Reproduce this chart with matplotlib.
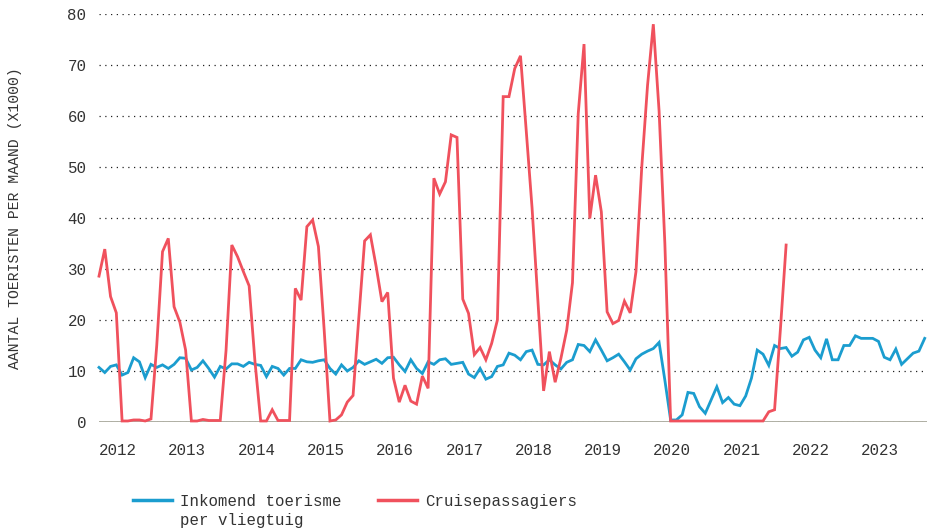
import matplotlib
matplotlib.use("Agg")
import matplotlib.pyplot as plt
from matplotlib.lines import Line2D

plt.rcParams['font.family'] = ['Liberation Mono', 'DejaVu Sans Mono']

# Monthly data, January 2012 onwards (x1000 tourists)
years = [2012, 2013, 2014, 2015, 2016, 2017, 2018, 2019, 2020, 2021, 2022, 2023]

air_tourism = [
    10.7, 9.7, 10.9, 11.2, 9.2, 9.7, 12.6, 11.8, 8.7, 11.3, 10.7, 11.2,   # 2012
    10.5, 11.3, 12.6, 12.5, 10.2, 10.7, 12.0, 10.5, 8.8, 10.9, 10.4, 11.4,  # 2013
    11.4, 10.9, 11.7, 11.3, 11.1, 8.9, 10.9, 10.5, 9.2, 10.5, 10.5, 12.2,   # 2014
    11.8, 11.7, 12.0, 12.2, 10.5, 9.4, 11.2, 10.0, 10.7, 12.0, 11.3, 11.8,  # 2015
    12.3, 11.5, 12.6, 12.7, 11.2, 9.9, 12.2, 10.5, 9.5, 11.8, 11.3, 12.2,   # 2016
    12.4, 11.3, 11.5, 11.7, 9.4, 8.7, 10.5, 8.4, 8.9, 10.9, 11.2, 13.5,    # 2017
    13.1, 12.2, 13.8, 14.1, 11.3, 11.2, 12.2, 11.2, 10.4, 11.7, 12.2, 15.2, # 2018
    15.0, 13.8, 16.1, 14.1, 12.0, 12.6, 13.3, 11.8, 10.2, 12.4, 13.3, 13.9, # 2019
    14.4, 15.6, 8.2, 0.4, 0.4, 1.4, 5.8, 5.6, 3.0, 1.7, 4.3, 6.9,          # 2020
    3.8, 4.8, 3.5, 3.2, 5.1, 8.6, 14.1, 13.3, 11.1, 15.0, 14.4, 14.6,      # 2021
    12.9, 13.7, 16.1, 16.6, 14.1, 12.6, 16.3, 12.2, 12.2, 15.0, 15.0, 16.9, # 2022
    16.4, 16.4, 16.4, 15.8, 12.7, 12.2, 14.3, 11.3, 12.4, 13.5, 13.9, 16.4, # 2023
]

cruise_passengers = [
    28.6, 33.9, 24.6, 21.4, 0.2, 0.2, 0.4, 0.4, 0.2, 0.6, 15.0, 33.4,     # 2012
    36.0, 22.6, 19.6, 14.1, 0.2, 0.2, 0.5, 0.3, 0.3, 0.3, 14.0, 34.7,     # 2013
    32.4, 29.5, 26.7, 12.0, 0.2, 0.2, 2.4, 0.3, 0.3, 0.3, 26.2, 23.9,     # 2014
    38.3, 39.6, 34.4, 18.0, 0.2, 0.4, 1.4, 3.9, 5.2, 20.5, 35.5, 36.7,    # 2015
    30.5, 23.6, 25.4, 8.6, 3.9, 7.2, 4.1, 3.5, 9.0, 6.6, 47.8, 44.7,      # 2016
    47.1, 56.3, 55.8, 24.1, 21.3, 13.2, 14.6, 12.2, 15.4, 20.0, 63.8, 63.8, # 2017
    69.3, 71.8, 57.0, 42.0, 24.0, 6.1, 13.8, 7.8, 12.5, 18.0, 27.3, 60.5, # 2018
    74.1, 39.9, 48.4, 41.2, 21.6, 19.3, 19.9, 23.7, 21.4, 29.5, 50.0, 66.0, # 2019
    78.0, 61.0, 35.0, 0.2, 0.2, 0.2, 0.2, 0.2, 0.2, 0.2, 0.2, 0.2,        # 2020
    0.2, 0.2, 0.2, 0.2, 0.2, 0.2, 0.2, 0.2, 2.0, 2.4, 18.0, 34.7,         # 2021
]

series_labels = ["Inkomend toerisme\nper vliegtuig", "Cruisepassagiers"]
y_label = "AANTAL TOERISTEN PER MAAND (X1000)"

BLUE = "#1b9dcf"
RED = "#f0515d"
TEXT = "#333333"

W, H = 927, 529
fig = plt.figure(figsize=(W / 100, H / 100), dpi=100)
ax = fig.add_axes([99 / W, 1 - 422 / H, (927 - 99) / W, (422 - 14) / H])

x_air = list(range(len(air_tourism)))
x_cruise = list(range(len(cruise_passengers)))

ax.plot(x_air, air_tourism, color=BLUE, lw=2.0, solid_joinstyle='miter', zorder=3, clip_on=False)
ax.plot(x_cruise, cruise_passengers, color=RED, lw=2.0, solid_joinstyle='miter', zorder=4, clip_on=False)

ax.set_xlim(0, 143.4)
ax.set_ylim(0, 80)
ax.set_yticks(range(0, 81, 10))
ax.grid(axis='y', color='#222222', lw=0.9, linestyle=(0, (1, 3.6)), zorder=1)
ax.axhline(0, color='#a9a99d', lw=1.3, zorder=2)

ax.set_xticks([12 * i for i in range(len(years))])
ax.set_xticklabels([str(y) for y in years], ha='left')
ax.tick_params(axis='x', length=0, pad=15, labelsize=11.3, labelcolor=TEXT)
ax.tick_params(axis='y', length=0, pad=9, labelsize=11.3, labelcolor=TEXT)
for s in ax.spines.values():
    s.set_visible(False)

fig.text(15 / W, 1 - 218 / H, y_label, rotation=90, ha='center', va='center',
         fontsize=10.6, color=TEXT)

# legend
ly = 1 - 500 / H
fig.add_artist(Line2D([133 / W, 172 / W], [ly, ly], color=BLUE, lw=2.5, transform=fig.transFigure))
l1, l2 = series_labels[0].split("\n")
fig.text(180 / W, ly, l1, ha='left', va='center_baseline', fontsize=11.3, color=TEXT)
fig.text(180 / W, 1 - 519 / H, l2, ha='left', va='center_baseline', fontsize=11.3, color=TEXT)
fig.add_artist(Line2D([378 / W, 417 / W], [ly, ly], color=RED, lw=2.5, transform=fig.transFigure))
fig.text(425 / W, ly, series_labels[1], ha='left', va='center_baseline', fontsize=11.3, color=TEXT)

fig.savefig("out.png", dpi=100)
